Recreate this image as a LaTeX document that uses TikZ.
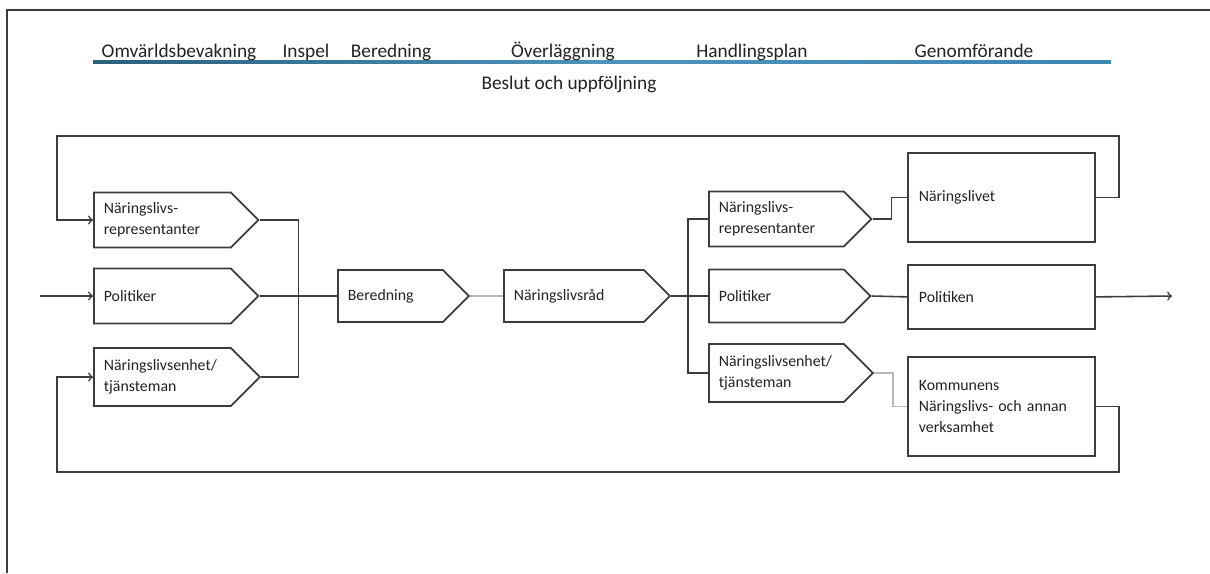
\documentclass[tikz,border=0pt]{standalone}
\usepackage{fontspec}
\setmainfont{Carlito}
\usetikzlibrary{shapes,positioning}

\definecolor{linegray}{HTML}{3C3C3C}
\definecolor{faintgray}{HTML}{B8B8B8}
\definecolor{textgray}{HTML}{222222}
\definecolor{bluedark}{HTML}{2B5F7C}
\definecolor{bluemid}{HTML}{4D93BC}
\definecolor{bluelight}{HTML}{3F86B0}

\tikzset{
    ptag/.style={shape=signal, signal to=east, signal pointer angle=90,
        draw=linegray, line width=1pt, align=left, inner xsep=2mm,
        minimum height=11mm, anchor=west, font=\fontsize{9}{12}\selectfont,
        text=textgray},
    bigbox/.style={draw=linegray, line width=1pt, align=left,
        text width=33mm, inner xsep=2.2mm, anchor=north west,
        font=\fontsize{9}{12}\selectfont, text=textgray},
    phase/.style={font=\fontsize{11}{12}\selectfont, text=textgray, anchor=base},
    link/.style={draw=linegray, line width=0.9pt},
    faint/.style={link, draw=faintgray},
}

\begin{document}
\begin{tikzpicture}[x=0.2mm, y=-0.2mm]
                \useasboundingbox (0, 0) rectangle (1210, 573);
                % ram
                \draw[linegray, line width=1pt] (1210, 10) -- (7, 10) -- (7, 573);

                % faser
                \shade[left color=bluedark, right color=bluelight, middle color=bluemid]
                    (93, 60) rectangle (1111, 63.5);
                \node[phase] (omv) at (179, 57) {Omvärldsbevakning};
                \node[phase] (insp) at (306, 57) {Inspel};
                \node[phase] (bered0) at (391, 57) {Beredning};
                \node[phase] (overl) at (563, 57) {Överläggning};
                \node[phase] (handl) at (752, 57) {Handlingsplan};
                \node[phase] (genf) at (974, 57) {Genomförande};
                \node[phase] (beslut) at (569, 89) {Beslut och uppföljning};

                % vänster kolumn
                \node[ptag, text width=23.4mm] (lrep) at (93, 220) {Näringslivs-\\representanter};
                \node[ptag, text width=23.4mm] (lpol) at (93, 296) {Politiker};
                \node[ptag, text width=23.4mm, minimum height=11.6mm] (lenh) at (93, 377) {Näringslivsenhet/\\tjänsteman};

                % mitten
                \node[ptag, text width=17mm, minimum height=10.4mm] (bered) at (337, 296) {Beredning};
                \node[ptag, text width=24mm, minimum height=10.4mm] (nrad) at (503, 296) {Näringslivsråd};

                % höger kolumn
                \node[ptag, text width=23mm] (rrep) at (708, 219) {Näringslivs-\\representanter};
                \node[ptag, text width=23mm, minimum height=10.6mm] (rpol) at (708, 296) {Politiker};
                \node[ptag, text width=23mm, minimum height=11.6mm] (renh) at (708, 373) {Näringslivsenhet/\\tjänsteman};

                % resultat
                \node[bigbox, minimum height=17.8mm] (nlivet) at (907, 152) {Näringslivet};
                \node[bigbox, minimum height=12.8mm] (politiken) at (907, 264) {Politiken};
                \node[bigbox, minimum height=19.8mm] (komm) at (907, 356) {Kommunens\\Näringslivs- och annan\\verksamhet};

                \coordinate (in) at (40, 296);
                \coordinate (out) at (1172, 296);
                \coordinate (topR) at (1119, 136);
                \coordinate (topL) at (57, 136);
                \coordinate (botR) at (1119, 472);
                \coordinate (botL) at (57, 472);

                % förbindelser
                \draw[link, ->] (in) -- (lpol.west);
                \draw[link] (lrep.east) -- ++(39, 0) |- (lenh.east);
                \draw[link] (lpol.east) -- (bered.west);
                \draw[faint] (bered.east) -- (nrad.west);
                \draw[link] (nrad.east) -- (rpol.west);
                \draw[link] (rrep.west) -- ++(-20, 0) |- (renh.west);
                \draw[link] (rrep.east) -- ++(19, 0) |- (nlivet.west);
                \draw[link] (rpol.east) -- (politiken.west);
                \draw[faint] (renh.east) -- ++(19, 0) |- (komm.west);
                \draw[link, ->] (politiken.east) -- (out);
                \draw[link, ->] (nlivet.east) -| (topR) -- (topL) |- (lrep.west);
                \draw[link, ->] (komm.east) -| (botR) -- (botL) |- (lenh.west);
            \end{tikzpicture}
\end{document}
